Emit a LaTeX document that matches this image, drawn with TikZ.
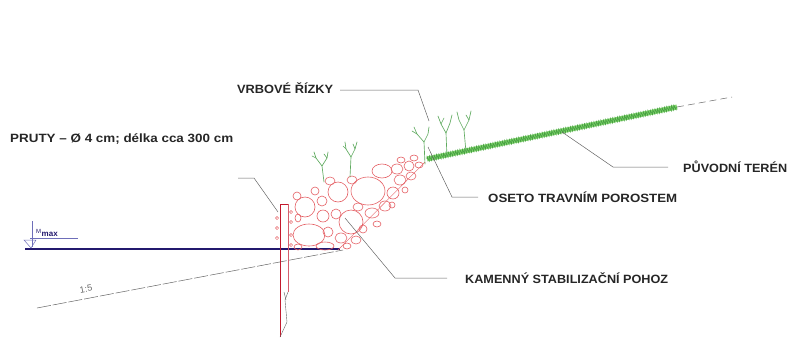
\documentclass[tikz,border=0pt]{standalone}
\usepackage{fontspec}
\setmainfont{Liberation Sans}
\usepackage{graphicx}
\usetikzlibrary{decorations.pathmorphing}

\definecolor{stone}{RGB}{228,95,100}
\definecolor{pile}{RGB}{195,25,45}
\definecolor{grass}{RGB}{130,212,110}
\definecolor{grassdark}{RGB}{70,160,65}
\definecolor{sprig}{RGB}{95,170,95}
\definecolor{water}{RGB}{35,25,110}
\definecolor{waterlight}{RGB}{110,110,185}
\definecolor{leader}{RGB}{100,100,100}

% stretch a label horizontally to a given width, keeping its height
\newcommand\fitlabel[2]{\resizebox{#1}{\height}{#2}}

\begin{document}
\begin{tikzpicture}[x=1pt,y=-1pt,
  lbl/.style={anchor=base west, inner sep=0pt, font=\fontsize{12}{14}\selectfont\bfseries, text=black!85},
  leaderline/.style={draw=leader, line width=0.5pt},
  stonestyle/.style={draw=stone, line width=0.6pt},
  sprigline/.style={draw=sprig, line width=0.65pt, line cap=round, line join=round},
  dot/.style={draw=stone, line width=0.5pt},
]
\useasboundingbox (0,0) rectangle (790,341);

% ---- bank slope 1:5 ----
\coordinate (slopeA) at (37,308);
\coordinate (slopeB) at (343,250);
\draw[leader, line width=0.5pt, dash pattern=on 14pt off 2pt] (slopeA) -- (slopeB);
\node[text=black!60, font=\fontsize{9}{10}\selectfont, rotate=11, inner sep=0pt] (ratio) at (86,289) {1:5};

% ---- water level ----
\coordinate (wlA) at (25,249);
\coordinate (wlB) at (340,249);
\draw[water, line width=1.3pt] (wlA) -- (wlB);
\draw[waterlight, line width=0.4pt] (32,221) -- (32,247);
\draw[waterlight, line width=0.5pt] (30,238) -- (78,238);
\draw[waterlight, line width=0.5pt] (24,240) -- (36,240) -- (31,248) -- cycle;
\node[anchor=base west, inner sep=0pt, text=water, font=\fontsize{8}{9}\selectfont] (wlabel) at (36,236) {\textsuperscript{M}\textbf{max}};

% ---- stone revetment ----
\draw[stone, line width=0.4pt] (338,250) -- (425,162);
\foreach \cx/\cy/\rx/\ry in {
  305/207/10/10, 309/235/16/11, 323/216/6/6, 322/201/5/5, 338/192/10/10,
  351/222/12/12, 368/191/17/14, 382/171/10/7, 397/169/6/5, 409/166/5/5,
  400/180/6/5, 393/193/6/6, 385/206/6/5, 372/213/7/5, 358/207/5/4,
  336/214/5/5, 328/232/5/5, 341/238/6/5, 325/246/9/4, 298/247/4/3,
  411/176/5/4, 356/240/5/4, 330/181/5/4, 297/196/4/4, 419/165/4/3,
  352/180/5/4, 315/191/4/4, 298/218/3/4, 363/229/4/4, 377/224/4/3,
  347/246/4/3, 392/205/3/3, 405/190/3/3, 414/158/4/3, 401/160/4/3}
  \draw[stonestyle] (\cx,\cy) ellipse [x radius=\rx, y radius=\ry];

% ---- stake ----
\draw[pile, line width=1pt] (280,337) -- (280,204) -- (288,204);
\draw[pile!70, line width=0.6pt] (288,204) -- (288,292);
\draw[leader, line width=0.4pt] (288,292) -- (285,300) -- (287,322) -- (280,337);
\draw[leader, line width=0.4pt] (284,292) -- (286,300);
\foreach \yy in {218,228,238}
  \draw[dot] (277,\yy) circle [radius=1.6];
\foreach \yy in {212,222,235,245}
  \draw[dot] (291,\yy) circle [radius=1.6];

% ---- original terrain with grass ----
\coordinate (terA) at (427,159);
\coordinate (terB) at (677,107);
\coordinate (terC) at (732,97);
\draw[grass, line width=5pt] (terA) -- (terB);
\draw[grassdark, line width=0.6pt, decorate,
      decoration={zigzag, segment length=2.4pt, amplitude=2.4pt}] (terA) -- (terB);
\draw[leader, line width=0.5pt, dash pattern=on 7pt off 4pt] (terB) -- (terC);

% ---- willow cuttings ----
\begin{scope}[shift={(324,182)}]
  \draw[sprigline] (0,0) -- (-2,-16) -- (-8,-24) -- (-10,-30);
  \draw[sprigline] (-2,-16) -- (3,-24) -- (4,-30);
  \draw[sprigline] (-8,-24) -- (-12,-26);
  \draw[sprigline] (3,-24) -- (0,-28);
\end{scope}
\begin{scope}[shift={(350,177)}]
  \draw[sprigline] (0,0) -- (1,-20) -- (-4,-28) -- (-5,-35);
  \draw[sprigline] (1,-20) -- (5,-28) -- (7,-35);
  \draw[sprigline] (-4,-28) -- (-7,-31);
  \draw[sprigline] (5,-28) -- (3,-33);
\end{scope}
\begin{scope}[shift={(425,164)}]
  \draw[sprigline] (0,0) -- (-1,-22) -- (-8,-30) -- (-11,-37);
  \draw[sprigline] (-1,-22) -- (3,-30) -- (4,-37);
  \draw[sprigline] (-8,-30) -- (-13,-33);
\end{scope}
\begin{scope}[shift={(447,157)}]
  \draw[sprigline] (0,0) -- (-1,-24) -- (-6,-33) -- (-9,-41);
  \draw[sprigline] (-1,-24) -- (3,-34) -- (5,-42);
  \draw[sprigline] (-6,-33) -- (-3,-39);
\end{scope}
\begin{scope}[shift={(466,152)}]
  \draw[sprigline] (0,0) -- (-2,-22) -- (-7,-32) -- (-9,-40);
  \draw[sprigline] (-2,-22) -- (3,-32) -- (5,-41);
  \draw[sprigline] (3,-32) -- (0,-37);
\end{scope}

% ---- labels ----
\node[lbl] (pruty) at (10,142) {\fitlabel{223pt}{PRUTY – Ø 4 cm; délka cca 300 cm}};
\node[lbl] (vrbove) at (237,93) {\fitlabel{96pt}{VRBOVÉ ŘÍZKY}};
\node[lbl] (oseto) at (488,202) {\fitlabel{189pt}{OSETO TRAVNÍM POROSTEM}};
\node[lbl] (puvodni) at (683,172) {\fitlabel{104pt}{PŮVODNÍ TERÉN}};
\node[lbl] (kamenny) at (465,283) {\fitlabel{203pt}{KAMENNÝ STABILIZAČNÍ POHOZ}};

% ---- leaders ----
\coordinate (prutyA) at (238,178);
\coordinate (prutyB) at (254,178);
\coordinate (prutyC) at (278,212);
\draw[leaderline] (prutyA) -- (prutyB) -- (prutyC);

\coordinate (vrbA) at (340,90);
\coordinate (vrbB) at (418,90);
\coordinate (vrbC) at (429,121);
\draw[leaderline] (vrbA) -- (vrbB) -- (vrbC);

\coordinate (osA) at (428,147);
\coordinate (osB) at (452,197);
\coordinate (osC) at (478,197);
\draw[leaderline] (osA) -- (osB) -- (osC);

\coordinate (puA) at (562,132);
\coordinate (puB) at (613,167);
\coordinate (puC) at (668,167);
\draw[leaderline] (puA) -- (puB) -- (puC);

\coordinate (kaA) at (345,218);
\coordinate (kaB) at (395,278);
\coordinate (kaC) at (447,278);
\draw[leaderline] (kaA) -- (kaB) -- (kaC);
\end{tikzpicture}
\end{document}
